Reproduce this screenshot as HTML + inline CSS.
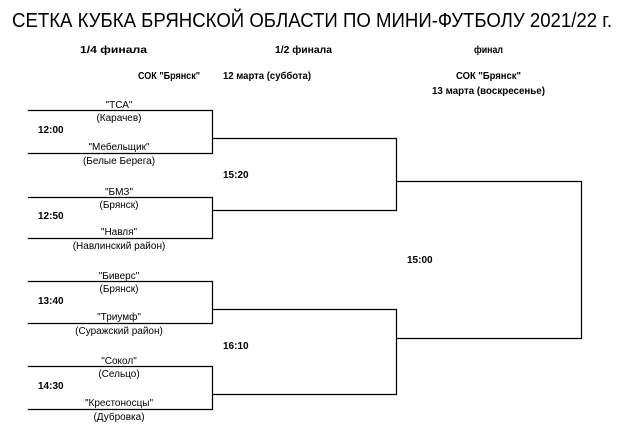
<!DOCTYPE html>
<html><head><meta charset="utf-8"><style>
html,body{margin:0;padding:0;background:#fff;width:630px;height:435px;overflow:hidden}
svg{display:block}
text{font-family:"Liberation Sans","DejaVu Sans",sans-serif;fill:#000}
.t{font-size:10px;text-anchor:middle}
.b{font-size:10px;font-weight:bold}
</style></head><body>
<svg width="630" height="435" viewBox="0 0 630 435">
<text x="12" y="27" font-size="20" textLength="600" lengthAdjust="spacingAndGlyphs">СЕТКА КУБКА БРЯНСКОЙ ОБЛАСТИ ПО МИНИ-ФУТБОЛУ 2021/22 г.</text>
<text class="b" x="80" y="53" textLength="67" lengthAdjust="spacingAndGlyphs">1/4 финала</text>
<text class="b" x="275" y="53" textLength="57" lengthAdjust="spacingAndGlyphs">1/2 финала</text>
<text class="b" x="474" y="53" textLength="29" lengthAdjust="spacingAndGlyphs">финал</text>
<text class="b" x="138" y="79" textLength="62" lengthAdjust="spacingAndGlyphs">СОК "Брянск"</text>
<text class="b" x="223" y="79" textLength="88" lengthAdjust="spacingAndGlyphs">12 марта (суббота)</text>
<text class="b" x="456" y="79" textLength="65" lengthAdjust="spacingAndGlyphs">СОК "Брянск"</text>
<text class="b" x="432" y="94" textLength="113" lengthAdjust="spacingAndGlyphs">13 марта (воскресенье)</text>

<g fill="none" stroke="#000" stroke-width="1.2">
<polyline points="28,110.5 212.5,110.5 212.5,153.5 28,153.5"/>
<polyline points="28,197.5 212.5,197.5 212.5,238.5 28,238.5"/>
<polyline points="28,281.5 212.5,281.5 212.5,323.5 28,323.5"/>
<polyline points="28,366.5 212.5,366.5 212.5,409.5 28,409.5"/>
<polyline points="212.5,138.5 396.5,138.5 396.5,210.5 212.5,210.5"/>
<polyline points="212.5,309.5 396.5,309.5 396.5,394.5 212.5,394.5"/>
<polyline points="396.5,181.5 581.5,181.5 581.5,338.5 396.5,338.5"/>
</g>

<g class="t">
<text class="t" x="119" y="108">"ТСА"</text>
<text class="t" x="119" y="121">(Карачев)</text>
<text class="t" x="119" y="150">"Мебельщик"</text>
<text class="t" x="119" y="164">(Белые Берега)</text>

<text class="t" x="119" y="195">"БМЗ"</text>
<text class="t" x="119" y="208">(Брянск)</text>
<text class="t" x="119" y="235">"Навля"</text>
<text class="t" x="119" y="249">(Навлинский район)</text>

<text class="t" x="119" y="279">"Биверс"</text>
<text class="t" x="119" y="292">(Брянск)</text>
<text class="t" x="119" y="320">"Триумф"</text>
<text class="t" x="119" y="334">(Суражский район)</text>

<text class="t" x="119" y="364">"Сокол"</text>
<text class="t" x="119" y="377">(Сельцо)</text>
<text class="t" x="119" y="406">"Крестоносцы"</text>
<text class="t" x="119" y="420">(Дубровка)</text>
</g>
<text class="b" x="38" y="133">12:00</text>
<text class="b" x="38" y="219">12:50</text>
<text class="b" x="38" y="304">13:40</text>
<text class="b" x="38" y="389">14:30</text>
<text class="b" x="223" y="178">15:20</text>
<text class="b" x="223" y="349">16:10</text>
<text class="b" x="407" y="263">15:00</text>
</svg>
</body></html>
